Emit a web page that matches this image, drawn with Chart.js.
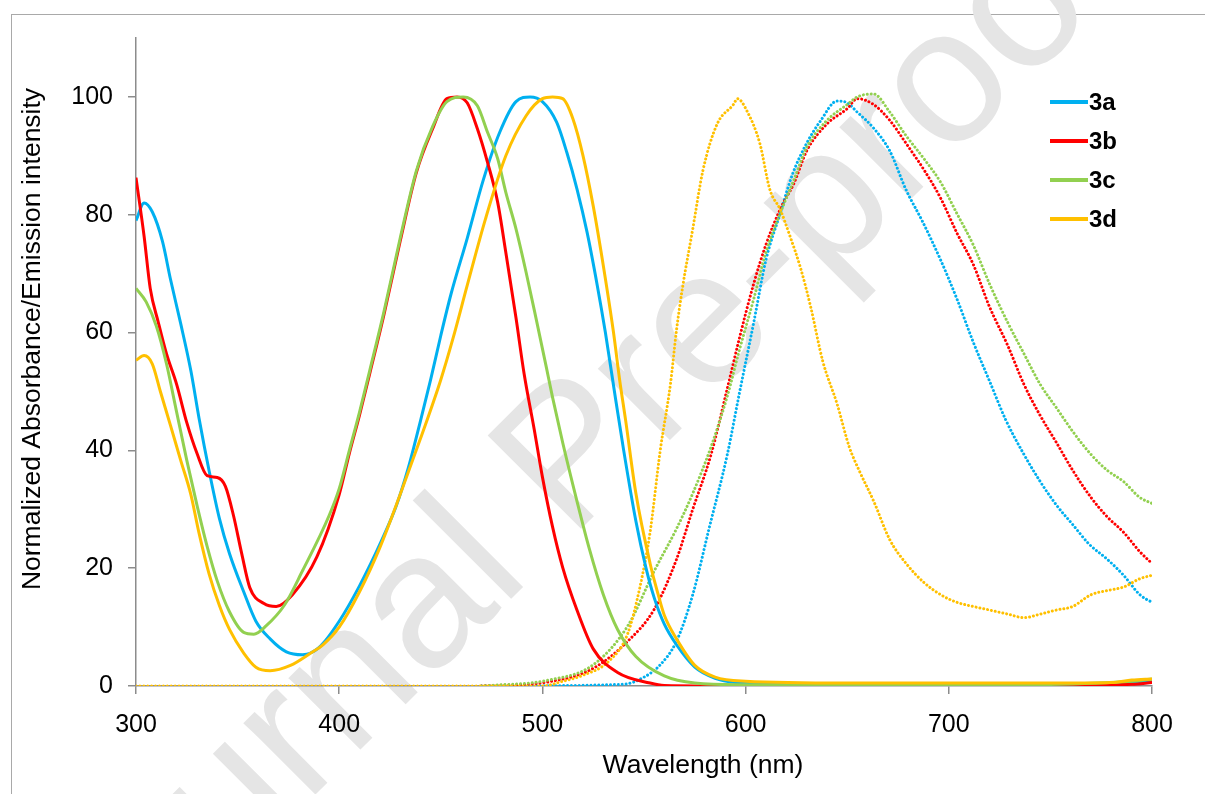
<!DOCTYPE html>
<html>
<head>
<meta charset="utf-8">
<script src="https://cdn.jsdelivr.net/npm/chart.js@4.4.1/dist/chart.umd.min.js"></script>
<style>
  html, body { margin: 0; padding: 0; background: #fff; overflow: hidden; }
  #wrap { position: relative; width: 1205px; height: 794px; overflow: hidden; }
  #frame { position: absolute; left: 11px; top: 14px; width: 1300px; height: 900px; border: 1.5px solid #a9a9a9; }
  canvas { position: absolute; left: 0; top: 0; }
</style>
</head>
<body>
<div id="wrap">
  <div id="frame"></div>
  <canvas id="spectraChart" width="1205" height="794"></canvas>
</div>
<script>
// series names and colours
const seriesNames = ["3a", "3b", "3c", "3d"];
const seriesColors = ["#00B0F0", "#FF0000", "#92D050", "#FFC000"];

// axis ticks
const xTicks = [300, 400, 500, 600, 700, 800];
const yTicks = [0, 20, 40, 60, 80, 100];

// absorbance (solid lines), wavelength in nm / normalized value
const abs3aX = [300, 304, 308, 313, 317, 322, 327, 331, 336, 341, 346, 353, 359, 366, 374, 382, 390, 400, 410, 421, 428, 434, 440, 445, 450, 455, 463, 471, 479, 487, 494, 500, 507, 512, 517, 522, 527, 531, 535, 540, 546, 551, 555, 560, 566, 575, 585, 595, 620, 700, 780, 800];
const abs3aY = [79, 82, 80.5, 75.5, 69, 61.5, 53.5, 45.5, 36.5, 28.5, 22.5, 16, 11, 8, 5.8, 5.3, 6.5, 11, 17, 24.8, 30.5, 37, 45, 52, 59.5, 66.5, 76, 86, 94, 99.2, 100, 99.2, 95.7, 90.6, 84.4, 77, 68, 60, 51, 40, 28, 20, 15, 10.5, 7, 3.2, 1.3, 0.6, 0.3, 0.2, 0.3, 0.8];

const abs3bX = [300, 304, 307, 311, 315, 320, 325, 330, 335, 340, 344, 348, 352, 356, 363, 369, 377, 389, 400, 405, 410, 415, 422, 430, 438, 446, 453, 458, 463, 468, 473, 478, 482, 487, 491, 496, 500, 505, 510, 517, 525, 537, 553, 560, 600, 700, 790, 800];
const abs3bY = [86.3, 76.3, 67.5, 61.7, 56.4, 51.2, 44.7, 39.5, 35.7, 35.4, 33.9, 28.9, 22.5, 16.7, 14, 13.5, 15.5, 21.9, 32.5, 39.5, 46, 53, 63, 75.5, 87.2, 94.6, 99.7, 100, 99, 94.6, 88.9, 82.1, 73.6, 62.5, 53, 43.5, 35.5, 27, 20.1, 12.9, 6.3, 2.3, 0.5, 0.1, 0, 0, 0.3, 0.6];

const abs3cX = [300, 305, 310, 315, 320, 325, 330, 335, 340, 346, 353, 358, 364, 373, 382, 395, 400, 405, 410, 415, 422, 430, 438, 446, 453, 461, 468, 473, 478, 482, 487, 492, 497, 502, 505, 510, 517, 523, 530, 537, 546, 560, 575, 600, 700, 790, 800];
const abs3cY = [67.5, 65.2, 61.1, 54.7, 46.5, 38.3, 30.7, 23.7, 17.8, 12.6, 9.1, 8.8, 10.2, 13.7, 19.6, 28.9, 33.5, 40, 46.5, 53.5, 63.5, 76, 87.5, 95, 99.2, 100, 98.5, 94, 89.5, 83.8, 77.6, 70.2, 62.2, 54, 49, 41.3, 31.4, 23.4, 15.5, 9.6, 5, 1.7, 0.5, 0.2, 0.1, 0.8, 1.2];

const abs3dX = [300, 304, 308, 312, 317, 322, 327, 331, 336, 341, 346, 353, 359, 366, 376, 386, 392, 400, 410, 420, 430, 440, 450, 456, 463, 472, 482, 492, 500, 505, 510, 515, 520, 525, 530, 535, 538, 541, 546, 553, 557, 560, 566, 575, 585, 600, 650, 700, 750, 780, 790, 800];
const abs3dY = [55.3, 56.1, 54.7, 50, 44.2, 38.3, 32.5, 26, 19, 13.7, 9.6, 5.6, 3.2, 2.6, 3.5, 5.6, 7, 10, 16, 23.5, 32.5, 42, 52, 59, 68, 79.3, 90, 96.8, 99.7, 100, 99.7, 96.3, 90, 81.5, 71.3, 60, 52, 45, 32.7, 20.8, 15.5, 12, 8, 3.5, 1.5, 0.8, 0.5, 0.5, 0.5, 0.6, 1, 1.2];

// emission (dotted lines)
const em3aX = [470, 540, 550, 558, 566, 574, 582, 591, 597, 604, 610, 617, 623, 630, 637, 645, 650, 655, 663, 671, 679, 687, 696, 704, 712, 720, 728, 737, 745, 753, 761, 769, 778, 786, 794, 800];
const em3aY = [0, 0.3, 1.5, 3.6, 7.6, 15.5, 26.7, 39.3, 49.8, 61.7, 72.3, 80.2, 86.8, 92.1, 96, 99.3, 99, 97.4, 94.7, 90.8, 84.2, 78.9, 72.3, 65.7, 58.4, 51.8, 45.2, 39.3, 34.7, 30.7, 27.4, 24.1, 21.5, 18.8, 15.5, 14.2];

const em3bX = [470, 503, 525, 542, 555, 566, 574, 583, 591, 597, 604, 610, 617, 624, 630, 640, 650, 655, 663, 671, 679, 688, 696, 704, 712, 720, 729, 737, 745, 753, 761, 770, 778, 786, 794, 800];
const em3bY = [0, 0.7, 3, 7.6, 13, 21.5, 30, 39.3, 50.5, 59.1, 68.3, 74.9, 80.9, 85.5, 90.8, 95.4, 98, 99.7, 98.7, 96, 92.1, 87.5, 82.8, 76.9, 71.6, 64.4, 57.8, 51.2, 45.9, 41.3, 36.6, 32, 28.7, 26.1, 22.8, 20.8];

const em3cX = [470, 503, 525, 542, 555, 566, 574, 583, 591, 597, 604, 610, 617, 624, 630, 640, 650, 655, 663, 671, 679, 688, 696, 704, 712, 720, 729, 737, 745, 753, 761, 770, 778, 786, 794, 800];
const em3cY = [0, 1, 3.6, 10.2, 19.5, 26.7, 32.7, 40.6, 49.2, 57.1, 65.7, 73.6, 80.2, 86.1, 91.4, 96, 98.7, 100, 100.5, 97.4, 93.4, 89.4, 85.5, 80.2, 74.9, 68.3, 61.7, 56.4, 51.2, 47.2, 43.2, 39.3, 36.6, 34.7, 32, 31];

const em3dX = [300, 500, 510, 519, 533, 542, 548, 553, 558, 563, 566, 569, 574, 579, 586, 594, 596, 601, 607, 612, 617, 622, 627, 632, 638, 645, 651, 656, 663, 671, 679, 688, 696, 704, 712, 720, 729, 737, 745, 753, 761, 770, 778, 786, 794, 800];
const em3dY = [0, 0, 0.8, 1.7, 4.3, 8.9, 16.8, 26.1, 40, 51.2, 60.4, 67.7, 77.6, 87.5, 95.4, 98.7, 99.7, 97.4, 92.1, 84.2, 80.9, 76.2, 71, 64.4, 55.1, 47.9, 40.6, 36.5, 31.4, 24.8, 20.8, 17.5, 15.5, 14.2, 13.5, 12.9, 12.2, 11.6, 12.2, 12.9, 13.5, 15.5, 16.2, 16.8, 18.2, 18.8];

const absX = [abs3aX, abs3bX, abs3cX, abs3dX];
const absY = [abs3aY, abs3bY, abs3cY, abs3dY];
const emX = [em3aX, em3bX, em3cX, em3dX];
const emY = [em3aY, em3bY, em3cY, em3dY];

const FONT = "'Liberation Sans', Arial, sans-serif";

function toPoints(xs, ys) {
  return xs.map((x, i) => ({ x: x, y: ys[i] }));
}

// emission gets a higher order so the solid absorbance lines sit on top
const datasets = [];
seriesNames.forEach((name, i) => {
  datasets.push({
    label: name,
    data: toPoints(absX[i], absY[i]),
    borderColor: seriesColors[i],
    borderWidth: 3,
    pointRadius: 0,
    cubicInterpolationMode: "monotone",
    fill: false,
    order: 4 - i,
  });
});
seriesNames.forEach((name, i) => {
  datasets.push({
    label: name + " em",
    data: toPoints(emX[i], emY[i]),
    borderColor: seriesColors[i],
    borderWidth: 3,
    borderDash: [0.01, 3.9],
    borderCapStyle: "round",
    pointRadius: 0,
    cubicInterpolationMode: "monotone",
    fill: false,
    order: 10 + 4 - i,
  });
});

// watermark behind everything
const watermark = {
  id: "watermark",
  beforeDraw(chart) {
    const ctx = chart.ctx;
    ctx.save();
    ctx.translate(87, 1023);
    ctx.rotate(-Math.PI / 4);
    ctx.fillStyle = "#e5e5e5";
    ctx.font = "192px " + FONT;
    ctx.textBaseline = "alphabetic";
    ctx.fillText("Journal Pre-proof", 0, 0);
    ctx.restore();
  },
};

// axis titles, placed as in the original figure
const axisTitles = {
  id: "axisTitles",
  afterDraw(chart) {
    const ctx = chart.ctx;
    ctx.save();
    ctx.fillStyle = "#000";
    ctx.font = "26.5px " + FONT;
    ctx.textAlign = "center";
    ctx.textBaseline = "middle";
    ctx.fillText("Wavelength (nm)", 703, 766);
    ctx.translate(33, 339);
    ctx.rotate(-Math.PI / 2);
    ctx.fillText("Normalized Absorbance/Emission intensity", 0, 0);
    ctx.restore();
  },
};

// legend (solid lines only) in the top right corner
const cornerLegend = {
  id: "cornerLegend",
  afterDraw(chart) {
    const ctx = chart.ctx;
    ctx.save();
    ctx.font = "bold 24px " + FONT;
    ctx.textBaseline = "middle";
    seriesNames.forEach((name, i) => {
      const y = 102 + i * 39;
      ctx.strokeStyle = seriesColors[i];
      ctx.lineWidth = 4;
      ctx.beginPath();
      ctx.moveTo(1050, y);
      ctx.lineTo(1088, y);
      ctx.stroke();
      ctx.fillStyle = "#000";
      ctx.fillText(name, 1089, y + 1);
    });
    ctx.restore();
  },
};

const axisColor = "#8c8c8c";

new Chart(document.getElementById("spectraChart"), {
  type: "line",
  data: { datasets },
  options: {
    responsive: false,
    animation: false,
    devicePixelRatio: 1,
    layout: { padding: { left: 12, top: 38, right: 53, bottom: 0 } },
    plugins: {
      legend: { display: false },
      tooltip: { enabled: false },
    },
    scales: {
      x: {
        type: "linear",
        min: 300,
        max: 800,
        afterBuildTicks(s) {
          s.ticks = xTicks.map((v) => ({ value: v }));
        },
        afterFit(s) {
          s.height = 108;
        },
        ticks: { color: "#000", font: { family: FONT, size: 25 }, padding: 16, maxRotation: 0 },
        grid: { drawOnChartArea: false, drawTicks: true, tickLength: 8, color: axisColor, lineWidth: 1.5 },
        border: { display: true, color: axisColor, width: 1.5 },
      },
      y: {
        min: 0,
        max: 110,
        afterBuildTicks(s) {
          s.ticks = yTicks.map((v) => ({ value: v }));
        },
        afterFit(s) {
          s.width = 124;
        },
        ticks: { color: "#000", font: { family: FONT, size: 25 }, padding: 15 },
        grid: { drawOnChartArea: false, drawTicks: true, tickLength: 8, color: axisColor, lineWidth: 1.5 },
        border: { display: true, color: axisColor, width: 1.5 },
      },
    },
  },
  plugins: [watermark, axisTitles, cornerLegend],
});
</script>
</body>
</html>
